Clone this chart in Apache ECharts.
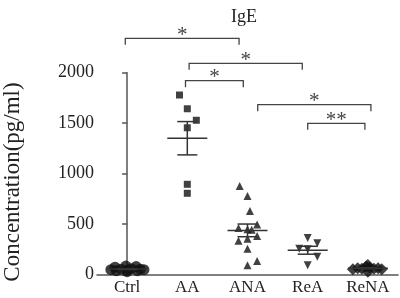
<!DOCTYPE html>
<html><head><meta charset="utf-8">
<script src="https://cdn.jsdelivr.net/npm/echarts@6/dist/echarts.min.js"></script>
<style>html,body{margin:0;padding:0;background:#fff}#c{width:400px;height:298px}</style>
</head><body><div id="c"></div>
<script>
const categories = ['Ctrl', 'AA', 'ANA', 'ReA', 'ReNA'];
const yTicks = [0, 500, 1000, 1500, 2000];
// values per group, with horizontal jitter (category units)
const ctrlValues = [50, 75, 40, 55, 85, 45, 30, 60, 80, 40, 55, 50];
const ctrlJitter = [-0.27, -0.2, -0.18, -0.1, -0.02, 0, 0, 0.07, 0.15, 0.17, 0.22, 0.28];
const aaValues = [1779, 1643, 1529, 1455, 895, 806];
const aaJitter = [-0.13, 0, 0.15, 0, 0, 0];
const anaValues = [877, 780, 630, 498, 463, 450, 445, 383, 337, 357, 257, 135, 93];
const anaJitter = [-0.13, 0, 0.04, 0.16, -0.15, 0, 0.07, 0.16, -0.15, 0, 0, 0.16, 0];
const reaValues = [363, 311, 257, 251, 178, 93];
const reaJitter = [0, 0.16, -0.14, 0, 0.16, 0];
const renaValues = [55, 65, 60, 80, 95, 30, 70, 60, 65, 55];
const renaJitter = [-0.25, -0.17, -0.1, -0.03, 0, 0, 0.03, 0.1, 0.17, 0.23];
// significance brackets: [from, to, level, label]
const brackets = [
  [-0.03, 1.86, 2340, '*'],
  [1.03, 2.91, 2093, '*'],
  [0.97, 1.93, 1921, '*'],
  [2.17, 4.05, 1683, '*'],
  [3.0, 3.95, 1499, '**']
];

const groups = [
  {v: ctrlValues, j: ctrlJitter, sym: 'circle', size: 11, rot: 0},
  {v: aaValues, j: aaJitter, sym: 'rect', size: 7, rot: 0},
  {v: anaValues, j: anaJitter, sym: 'triangle', size: 8, rot: 0},
  {v: reaValues, j: reaJitter, sym: 'triangle', size: 8, rot: 180},
  {v: renaValues, j: renaJitter, sym: 'diamond', size: 12, rot: 0}
];
function stats(a) {
  const n = a.length, m = a.reduce((s, x) => s + x, 0) / n;
  const sd = Math.sqrt(a.reduce((s, x) => s + (x - m) * (x - m), 0) / (n - 1));
  return [m, sd / Math.sqrt(n)];
}
const errData = groups.map((g, i) => { const s = stats(g.v); return [i, s[0], s[1]]; });

const FONT = '"Liberation Serif", "Times New Roman", serif';
const series = groups.map((g, i) => ({
  type: 'scatter', xAxisIndex: 1, symbol: g.sym, symbolSize: g.size, symbolRotate: g.rot,
  itemStyle: {color: '#111'}, silent: true, z: 2,
  data: g.v.map((v, k) => [i + g.j[k], v])
}));
series.push({
  type: 'custom', xAxisIndex: 1, z: 3, silent: true, data: errData,
  renderItem: function (params, api) {
    const x = api.value(0), m = api.value(1), s = api.value(2);
    const pm = api.coord([x, m]), pu = api.coord([x, m + s]), pl = api.coord([x, m - s]);
    const st = {stroke: '#333', lineWidth: 1.5};
    return {type: 'group', children: [
      {type: 'line', shape: {x1: pm[0] - 20, y1: pm[1], x2: pm[0] + 20, y2: pm[1]}, style: st},
      {type: 'line', shape: {x1: pu[0], y1: pu[1], x2: pl[0], y2: pl[1]}, style: st},
      {type: 'line', shape: {x1: pu[0] - 10, y1: pu[1], x2: pu[0] + 10, y2: pu[1]}, style: st},
      {type: 'line', shape: {x1: pl[0] - 10, y1: pl[1], x2: pl[0] + 10, y2: pl[1]}, style: st}
    ]};
  }
});
series.push({
  type: 'custom', xAxisIndex: 1, z: 3, silent: true, clip: false,
  data: brackets.map(b => [b[0], b[1], b[2]]),
  renderItem: function (params, api) {
    const a = api.coord([api.value(0), api.value(2)]), b = api.coord([api.value(1), api.value(2)]);
    const lab = brackets[params.dataIndex][3];
    return {type: 'group', children: [
      {type: 'polyline', shape: {points: [[a[0], a[1] + 6.5], [a[0], a[1]], [b[0], b[1]], [b[0], b[1] + 6.5]]},
       style: {stroke: '#444', lineWidth: 1.3, fill: null}},
      {type: 'text', x: (a[0] + b[0]) / 2, y: a[1] - 3,
       style: {text: lab, fontFamily: FONT, fontSize: 21, fill: '#444', align: 'center', verticalAlign: 'middle'}}
    ]};
  }
});

const chart = echarts.init(document.getElementById('c'), null, {renderer: 'canvas'});
chart.setOption({
  animation: false,
  backgroundColor: '#fff',
  title: {text: 'IgE', left: 226, top: 3, textStyle: {fontFamily: FONT, fontSize: 18, fontWeight: 'normal', color: '#222'}},
  grid: {left: 97, right: 2, top: 72.7, bottom: 23.3},
  xAxis: [
    {type: 'category', data: categories, boundaryGap: true,
     axisLine: {lineStyle: {color: '#555', width: 1.5}},
     axisTick: {alignWithLabel: true, length: 4, lineStyle: {color: '#555', width: 1.5}},
     axisLabel: {fontFamily: FONT, fontSize: 17, color: '#222', margin: 4}},
    {type: 'value', min: -0.5, max: 4.5, show: false}
  ],
  yAxis: {type: 'value', min: yTicks[0], max: yTicks[yTicks.length - 1], interval: yTicks[1] - yTicks[0],
    splitLine: {show: false},
    axisLine: {show: true, lineStyle: {color: '#555', width: 1.5}},
    axisTick: {show: true, length: 5, lineStyle: {color: '#555', width: 1.5}},
    axisLabel: {fontFamily: FONT, fontSize: 18, color: '#222', margin: 3, formatter: v => String(v)}},
  graphic: [{type: 'text', x: 13, y: 182, rotation: Math.PI / 2,
    style: {text: 'Concentration(pg/ml)', fontFamily: FONT, fontSize: 23, fill: '#222', align: 'center', verticalAlign: 'middle'}}],
  series: series
});
</script></body></html>
